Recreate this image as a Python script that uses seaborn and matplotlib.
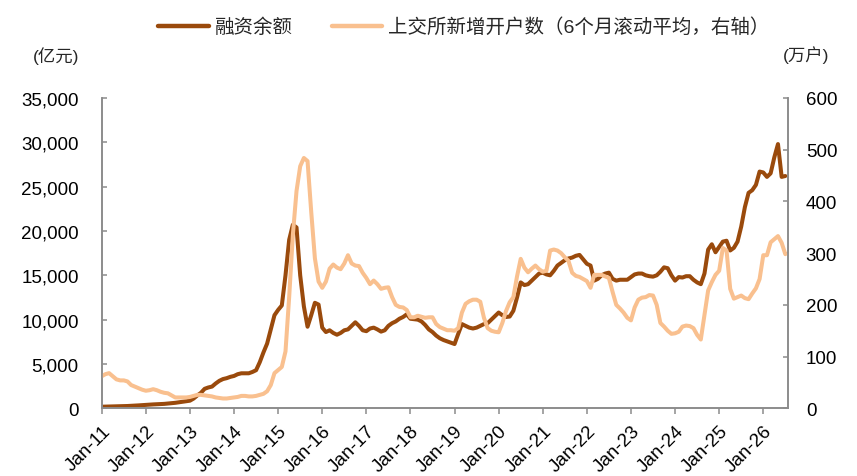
import matplotlib
matplotlib.use('Agg')
import matplotlib.pyplot as plt
import pandas as pd
import seaborn as sns
from matplotlib.ticker import FuncFormatter
from matplotlib.lines import Line2D

# ---------------- data (monthly, Jan-2011 ... Jul-2026) ----------------
tick_labels = ['Jan-11', 'Jan-12', 'Jan-13', 'Jan-14', 'Jan-15', 'Jan-16', 'Jan-17', 'Jan-18',
               'Jan-19', 'Jan-20', 'Jan-21', 'Jan-22', 'Jan-23', 'Jan-24', 'Jan-25', 'Jan-26']

series_names = ['融资余额', '上交所新增开户数（6个月滚动平均，右轴）']

# 融资余额 (亿元, left axis)
margin = [
    180, 190, 200, 210, 220, 230, 240, 260, 280, 300, 330, 360,            # 2011
    400, 420, 440, 460, 480, 500, 540, 580, 620, 680, 750, 800,            # 2012
    860, 1100, 1450, 1750, 2200, 2350, 2450, 2800, 3100, 3300, 3400, 3550,  # 2013
    3650, 3850, 3950, 3950, 3950, 4100, 4300, 5200, 6300, 7300, 8900, 10500,  # 2014
    11100, 11600, 15000, 19000, 20700, 20400, 15000, 11500, 9200, 10500, 11900, 11700,  # 2015
    9100, 8600, 8800, 8500, 8300, 8500, 8800, 8900, 9300, 9700, 9300, 8800,  # 2016
    8700, 9000, 9100, 8900, 8650, 8800, 9300, 9600, 9800, 10100, 10300, 10600,  # 2017
    10100, 10050, 10000, 9800, 9400, 8900, 8600, 8200, 7900, 7700, 7550, 7400,  # 2018
    7250, 8400, 9500, 9300, 9100, 9000, 9100, 9300, 9500, 9600, 10000, 10400,  # 2019
    10800, 10500, 10300, 10350, 11000, 12500, 14200, 13900, 14000, 14400, 14800, 15200,  # 2020
    15300, 15100, 15000, 15500, 16100, 16400, 16700, 16900, 17000, 17200, 17300, 16800,  # 2021
    16300, 16100, 14400, 14600, 15000, 15200, 15300, 14600, 14400, 14500, 14500, 14500,  # 2022
    14800, 15100, 15200, 15200, 15000, 14900, 14850, 15000, 15400, 15900, 15800, 15000,  # 2023
    14400, 14800, 14750, 14900, 14900, 14500, 14200, 14000, 15200, 17900, 18500, 17600,  # 2024
    18200, 18800, 18900, 17800, 18100, 18800, 20500, 22700, 24300, 24600, 25200, 26700,  # 2025
    26600, 26100, 26500, 28300, 29800, 26100, 26200,                        # 2026
]

# 上交所新增开户数 6个月滚动平均 (万户, right axis)
accounts = [
    62, 66, 68, 62, 56, 54, 54, 52, 45, 42, 39, 36,                          # 2011
    34, 35, 37, 35, 32, 30, 29, 25, 21, 21, 21, 21,                          # 2012
    22, 24, 26, 26, 25, 24, 23, 21, 20, 19, 19, 20,                          # 2013
    21, 22, 24, 24, 23, 23, 24, 26, 28, 33, 45, 68,                          # 2014
    74, 80, 110, 215, 335, 420, 468, 484, 478, 380, 290, 245,                # 2015
    233, 245, 270, 278, 272, 269, 280, 296, 280, 276, 275, 262,              # 2016
    252, 240, 247, 240, 231, 233, 234, 215, 200, 196, 195, 190,              # 2017
    176, 176, 179, 177, 175, 176, 176, 163, 157, 154, 151, 151,              # 2018
    150, 155, 185, 202, 207, 210, 210, 206, 175, 155, 150, 148,              # 2019
    147, 165, 188, 205, 215, 255, 289, 272, 263, 270, 276, 269,              # 2020
    264, 266, 305, 307, 305, 300, 292, 285, 262, 256, 254, 250,              # 2021
    246, 233, 258, 258, 258, 255, 252, 225, 200, 193, 185, 175,              # 2022
    170, 195, 210, 214, 215, 219, 218, 200, 165, 158, 150, 144,              # 2023
    145, 148, 158, 160, 159, 155, 142, 133, 180, 228, 244, 258,              # 2024
    266, 310, 305, 231, 212, 215, 218, 213, 211, 222, 232, 250,              # 2025
    296, 296, 321, 327, 333, 320, 298,                                       # 2026
]

months = list(range(len(margin)))

DARK = '#9A4A0C'
LIGHT = '#F9C08F'
GREY = '#8C8C8C'

sns.set_style('white')
plt.rcParams['font.family'] = ['Liberation Sans', 'Noto Sans CJK SC']

df = pd.DataFrame({'month': months, 'margin': margin, 'accounts': accounts})

fig = plt.figure(figsize=(8.57, 4.77), dpi=100)
ax = fig.add_axes([0.1187, 0.1419, 0.8011, 0.6506])
ax2 = ax.twinx()

sns.lineplot(data=df, x='month', y='margin', ax=ax, color=DARK, linewidth=2.9, legend=False)
sns.lineplot(data=df, x='month', y='accounts', ax=ax2, color=LIGHT, linewidth=2.9, legend=False)

ax.set_xlim(0, 186.8)
ax.set_ylim(0, 35000)
ax2.set_ylim(0, 600)
ax.set_yticks(list(range(0, 35001, 5000)))
ax2.set_yticks(list(range(0, 601, 100)))
ax.yaxis.set_major_formatter(FuncFormatter(lambda v, p: f'{int(v):,}'))
ax.set_xticks(list(range(0, 12 * len(tick_labels), 12)))
ax.set_xticklabels(tick_labels, rotation=45, ha='right', va='top', rotation_mode='anchor')

for a in (ax, ax2):
    a.set_xlabel('')
    a.set_ylabel('')
    a.grid(False)
    a.spines['top'].set_visible(False)
    for s in ('left', 'right', 'bottom'):
        a.spines[s].set_color(GREY)
        a.spines[s].set_linewidth(1.2)

ax.tick_params(axis='x', bottom=True, direction='out', length=4, width=1.1, color=GREY,
               labelsize=13.5, pad=6, labelcolor='black')
ax.tick_params(axis='y', left=True, direction='in', length=3.5, width=1.1, color=GREY,
               labelsize=13.5, pad=16.5, labelcolor='black')
ax2.tick_params(axis='y', right=True, direction='in', length=3.5, width=1.1, color=GREY,
                labelsize=13.5, pad=12.6, labelcolor='black')

fig.text(79 / 857, 1 - 56.5 / 477, '(亿元)', ha='right', va='center', fontsize=12.5)
fig.text(783 / 857, 1 - 55 / 477, '(万户)', ha='left', va='center', fontsize=12.5)

handles = [Line2D([], [], color=DARK, linewidth=3.2), Line2D([], [], color=LIGHT, linewidth=3.2)]
fig.legend(handles, series_names, loc='center', bbox_to_anchor=(464 / 857, 1 - 28 / 477),
           ncol=2, frameon=False, fontsize=14, handlelength=2.6, handletextpad=0.3,
           columnspacing=2.0, borderpad=0.2)

fig.savefig('out.png', dpi=100)
